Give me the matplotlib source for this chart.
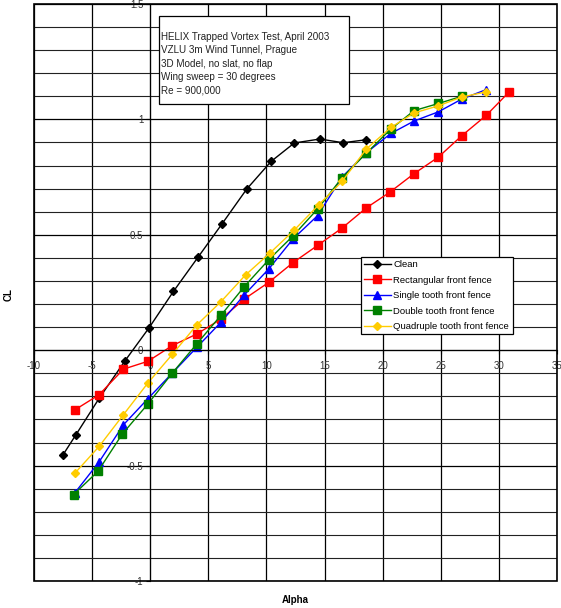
import numpy as np
import matplotlib
matplotlib.use('Agg')
import matplotlib.pyplot as plt
from matplotlib.patches import Rectangle
from matplotlib.ticker import MultipleLocator

# Clean wing
alpha_clean = [-7.5, -6.4, -4.4, -2.2, -0.1, 2.0, 4.1, 6.2, 8.3, 10.4, 12.4, 14.6, 16.6, 18.6]
cl_clean = [-0.453, -0.367, -0.209, -0.048, 0.097, 0.255, 0.402, 0.549, 0.698, 0.818, 0.898, 0.915, 0.899, 0.912]

# Rectangular front fence
alpha_rect = [-6.5, -4.4, -2.3, -0.2, 1.9, 4.0, 6.1, 8.1, 10.2, 12.3, 14.4, 16.5, 18.6, 20.6, 22.7, 24.8, 26.8, 28.9, 30.9]
cl_rect = [-0.259, -0.193, -0.082, -0.048, 0.020, 0.070, 0.135, 0.222, 0.294, 0.380, 0.454, 0.529, 0.617, 0.684, 0.765, 0.837, 0.929, 1.017, 1.120]

# Single tooth front fence
alpha_single = [-6.5, -4.4, -2.3, -0.2, 1.9, 4.0, 6.1, 8.1, 10.2, 12.3, 14.4, 16.5, 18.6, 20.7, 22.7, 24.8, 26.8, 28.9]
cl_single = [-0.619, -0.484, -0.323, -0.210, -0.099, 0.012, 0.122, 0.240, 0.352, 0.483, 0.583, 0.750, 0.856, 0.939, 0.993, 1.033, 1.088, 1.129]

# Double tooth front fence
alpha_double = [-6.6, -4.5, -2.4, -0.2, 1.9, 4.0, 6.1, 8.1, 10.2, 12.3, 14.4, 16.5, 18.6, 20.7, 22.7, 24.8, 26.8]
cl_double = [-0.626, -0.525, -0.363, -0.233, -0.099, 0.027, 0.152, 0.276, 0.392, 0.496, 0.612, 0.747, 0.854, 0.958, 1.038, 1.069, 1.100]

# Quadruple tooth front fence
alpha_quad = [-6.5, -4.4, -2.3, -0.2, 1.9, 4.0, 6.1, 8.2, 10.3, 12.4, 14.5, 16.5, 18.6, 20.7, 22.7, 24.8, 26.8, 28.9]
cl_quad = [-0.534, -0.417, -0.279, -0.142, -0.018, 0.109, 0.211, 0.326, 0.421, 0.521, 0.630, 0.731, 0.872, 0.965, 1.028, 1.059, 1.097, 1.119]

info_lines = ['HELIX Trapped Vortex Test, April 2003',
              'VZLU 3m Wind Tunnel, Prague',
              '3D Model, no slat, no flap',
              'Wing sweep = 30 degrees',
              'Re = 900,000']

plt.rcParams['font.family'] = ['Liberation Sans', 'DejaVu Sans']

fig = plt.figure(figsize=(5.61, 6.08), dpi=100)
ax = fig.add_axes([0.0606, 0.0444, 0.9323, 0.949])

ax.plot(alpha_clean, cl_clean, color='black', marker='D', markersize=4, lw=1, label='Clean')
ax.plot(alpha_rect, cl_rect, color='#FF0000', marker='s', markersize=5.5, lw=1, label='Rectangular front fence')
ax.plot(alpha_single, cl_single, color='#0000FF', marker='^', markersize=6, lw=1, label='Single tooth front fence')
ax.plot(alpha_double, cl_double, color='#008000', marker='s', markersize=5.5, lw=1, label='Double tooth front fence')
ax.plot(alpha_quad, cl_quad, color='#FFCC00', marker='D', markersize=4, lw=1, label='Quadruple tooth front fence')

ax.set_xlim(-10, 35)
ax.set_ylim(-1, 1.5)
ax.xaxis.set_major_locator(MultipleLocator(5))
ax.yaxis.set_major_locator(MultipleLocator(0.5))
ax.yaxis.set_minor_locator(MultipleLocator(0.1))
ax.grid(True, which='major', color='black', lw=0.9)
ax.grid(True, which='minor', axis='y', color='#222222', lw=0.8)
ax.set_axisbelow(True)

ax.spines['left'].set_position(('data', 0))
ax.spines['bottom'].set_position(('data', 0))
ax.spines['right'].set_visible(False)
ax.spines['top'].set_visible(False)
ax.add_patch(Rectangle((0, 0), 1, 1, transform=ax.transAxes, fill=False,
                       edgecolor='black', lw=1.2, clip_on=False, zorder=5))

ax.set_xticks([-10, -5, 0, 5, 10, 15, 20, 25, 30, 35])
ax.set_xticklabels(['-10', '-5', '0', '5', '10', '15', '20', '25', '30', '35'])
ax.set_yticks([-1, -0.5, 0, 0.5, 1, 1.5])
ax.set_yticklabels(['-1', '-0.5', '0', '0.5', '1', '1.5'])
ax.tick_params(axis='both', which='major', labelsize=7, length=3, color='black', labelcolor='#333333')
ax.tick_params(axis='x', pad=5)
ax.tick_params(axis='y', pad=2)
ax.tick_params(which='minor', length=0)

fig.text(0.015, 0.515, 'CL', rotation=90, fontsize=7, fontweight='bold', ha='center', va='center')
fig.text(0.526, 0.013, 'Alpha', fontsize=7, fontweight='bold', ha='center', va='center')

ax.add_patch(Rectangle((0.239, 0.8272), 0.3634, 0.1528, transform=ax.transAxes,
                       facecolor='white', edgecolor='black', lw=0.9, zorder=6))
ax.text(0.243, 0.951, '\n'.join(info_lines), transform=ax.transAxes, fontsize=7.1,
        va='top', ha='left', linespacing=1.4, color='#222222', zorder=7)

leg = ax.legend(loc='upper left', bbox_to_anchor=(0.625, 0.5615), borderaxespad=0,
                fontsize=6.8, frameon=True, fancybox=False, edgecolor='black',
                framealpha=1, handlelength=2.8, handletextpad=0.3,
                labelspacing=0.68, borderpad=0.35)
leg.get_frame().set_linewidth(0.9)
leg.set_zorder(8)

fig.savefig('out.png', dpi=100)
